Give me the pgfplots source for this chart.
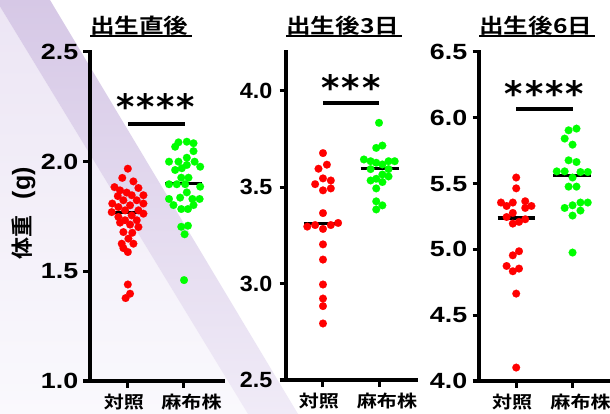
\documentclass[border=0pt]{standalone}
\usepackage{fontspec}
\usepackage{pgfplots}
\pgfplotsset{compat=1.18}
\setmainfont{Liberation Sans}
\newfontfamily\numA{Liberation Sans Bold}[FakeStretch=1.22]
\newfontfamily\numB{Liberation Sans Bold}[FakeStretch=1.06]
\newfontfamily\latB{Liberation Sans Bold}
\newfontfamily\jpT{Noto Sans CJK JP Bold}[FakeStretch=1.2]
\newfontfamily\jpL{Noto Sans CJK JP Bold}[FakeStretch=1.18]
\newfontfamily\jpY{Noto Sans CJK JP Bold}
\newfontfamily\astfont{DejaVu Sans Bold}

\definecolor{band1}{RGB}{214,200,230}
\definecolor{band2}{RGB}{240,235,247}
\definecolor{side1}{RGB}{236,229,244}
\definecolor{side2}{RGB}{250,249,253}
\definecolor{dred}{RGB}{255,0,0}
\definecolor{dgreen}{RGB}{0,255,0}

% underline drawn by hand so that its weight can be set
\newcommand\ul[1]{\setbox0\hbox{#1}\rlap{\rule[-3.7bp]{\dimexpr\wd0+3bp\relax}{1.5bp}}\box0}

\tikzset{stars/.style={font=\astfont\fontsize{35bp}{35bp}\selectfont, yshift=-5.6bp}}

\pgfplotsset{
  panel/.style={
    scale only axis, height=329bp,
    axis lines=left,
    axis line style={-, line width=3.2bp, line cap=rect},
    tick align=outside, major tick length=6.5bp,
    major tick style={line width=3bp, black},
    xtick={0,1},
    xticklabels={{\kern-8bp 対照},{麻布株\kern-16bp}},
    xticklabel style={font=\jpL\fontsize{17bp}{17bp}\selectfont, anchor=base, yshift=-21bp},
    yticklabel style={inner sep=0pt, xshift=-5bp},
    title style={at={(axis description cs:0,1)}, anchor=base west, yshift=13bp,
      inner sep=0pt, font=\jpT\fontsize{20.5bp}{20.5bp}\selectfont},
    clip=false,
  },
  dots/.style={only marks, mark=*, mark size=3.9bp, color=#1,
    mark options={solid, draw=#1, fill=#1, line width=0.1bp}},
  med/.style={no marks, black, line width=3.5bp},
  sig/.style={no marks, black, line width=4bp},
}

\begin{document}
\begin{tikzpicture}
% background
\fill[white] (0bp,0bp) rectangle (610bp,414bp);
\shade[top color=side1, bottom color=side2] (-4bp,414bp) -- (248bp,0bp) -- (-4bp,0bp) -- cycle;
\shade[top color=band1, bottom color=band2] (-4bp,414bp) -- (50bp,414bp) -- (298bp,0bp) -- (248bp,0bp) -- cycle;

% panel 1: at birth
\begin{axis}[panel, at={(90bp,33bp)}, anchor=south west, width=133bp,
  xmin=-0.68, xmax=1.71, ymin=1, ymax=2.5,
  ytick={1,1.5,2,2.5}, yticklabels={1.0,1.5,2.0,2.5},
  yticklabel style={font=\numA\fontsize{22bp}{22bp}\selectfont},
  title={\ul{出生直後}},
  ylabel={{\jpY\fontsize{22bp}{22bp}\selectfont 体重}\hspace{16bp}{\latB\fontsize{25bp}{25bp}\selectfont (g)}},
  ylabel style={at={(axis description cs:-0.5,0.51)}, anchor=center},
]
\addplot[dots=dred] coordinates {
(0.00,1.968) (-0.10,1.926) (0.10,1.910) (-0.24,1.884) (-0.14,1.869) (0.19,1.880)
(-0.02,1.859) (0.07,1.847) (0.28,1.847) (-0.18,1.843) (-0.28,1.809) (-0.08,1.824)
(0.16,1.824) (0.28,1.809) (0.04,1.801) (-0.17,1.793) (-0.29,1.770) (-0.05,1.778)
(0.19,1.778) (0.28,1.763) (-0.17,1.748) (0.07,1.755) (-0.05,1.733) (0.16,1.733)
(-0.14,1.722) (0.04,1.713) (0.19,1.702) (-0.08,1.679) (0.08,1.676) (0.01,1.649)
(-0.11,1.626) (0.10,1.626) (-0.08,1.606) (0.00,1.588) (0.00,1.440) (0.04,1.398)
(-0.04,1.378)
};
\addplot[dots=dgreen] coordinates {
(0.91,2.088) (1.06,2.091) (1.18,2.084) (0.85,2.068) (1.18,2.048) (1.06,2.018)
(0.74,2.000) (0.91,2.000) (1.20,2.000) (1.06,1.985) (1.30,1.977) (0.85,1.962)
(0.97,1.970) (0.96,1.927) (1.09,1.927) (0.74,1.897) (0.88,1.897) (1.03,1.897)
(1.30,1.886) (1.06,1.860) (0.74,1.830) (0.94,1.836) (1.16,1.830) (1.29,1.830)
(0.82,1.802) (0.96,1.784) (1.08,1.784) (1.18,1.802) (0.96,1.703) (1.08,1.708)
(1.02,1.669) (1.01,1.460)
};
\addplot[med] coordinates {(-0.28,1.768) (0.33,1.768)};
\addplot[med] coordinates {(0.67,1.900) (1.33,1.900)};
\addplot[sig] coordinates {(0,2.170) (1.03,2.170)};
\node[stars] at (axis cs:0.5,2.275) {*\kern2bp*\kern2bp*\kern2bp*};
\end{axis}

% panel 2: day 3
\begin{axis}[panel, at={(286bp,34bp)}, anchor=south west, width=130bp, height=328bp,
  xmin=-0.66, xmax=1.66, ymin=2.5, ymax=4.2,
  ytick={2.5,3,3.5,4}, yticklabels={2.5,3.0,3.5,4.0},
  yticklabel style={font=\numB\fontsize{22bp}{22bp}\selectfont, xshift=-2bp},
  title={\ul{出生後3日}},
]
\addplot[dots=dred] coordinates {
(0.00,3.676) (0.07,3.616) (-0.08,3.595) (0.00,3.545) (0.14,3.534) (-0.14,3.515)
(0.00,3.483) (0.14,3.493) (0.00,3.365) (-0.28,3.295) (-0.14,3.303) (0.00,3.283)
(0.14,3.303) (0.27,3.314) (0.00,3.203) (0.00,3.124) (0.00,2.995) (0.00,2.922)
(0.00,2.883) (0.00,2.793)
};
\addplot[dots=dgreen] coordinates {
(1.00,3.833) (0.95,3.703) (1.06,3.715) (0.73,3.643) (0.85,3.634) (0.95,3.626)
(1.06,3.617) (1.17,3.634) (1.28,3.634) (0.85,3.593) (1.17,3.593) (1.06,3.565)
(0.95,3.543) (0.85,3.534) (1.17,3.555) (1.06,3.526) (0.95,3.493) (0.95,3.426)
(1.06,3.405) (0.95,3.384)
};
\addplot[med] coordinates {(-0.34,3.310) (0.33,3.310)};
\addplot[med] coordinates {(0.67,3.595) (1.35,3.595)};
\addplot[sig] coordinates {(0,3.936) (1.0,3.936)};
\node[stars] at (axis cs:0.5,4.043) {*\kern2bp*\kern2bp*};
\end{axis}

% panel 3: day 6
\begin{axis}[panel, at={(479bp,33bp)}, anchor=south west, width=133bp,
  xmin=-0.66, xmax=1.70, ymin=4, ymax=6.5,
  ytick={4,4.5,5,5.5,6,6.5}, yticklabels={4.0,4.5,5.0,5.5,6.0,6.5},
  yticklabel style={font=\numA\fontsize{22bp}{22bp}\selectfont},
  title={\ul{出生後6日}},
]
\addplot[dots=dred] coordinates {
(0.00,5.546) (0.00,5.464) (-0.27,5.356) (-0.17,5.330) (-0.06,5.356) (0.16,5.366)
(0.16,5.315) (0.27,5.330) (-0.06,5.277) (-0.17,5.246) (-0.06,5.196) (0.05,5.209)
(0.16,5.229) (0.05,4.986) (-0.06,4.955) (-0.17,4.874) (-0.06,4.834) (0.05,4.854)
(0.00,4.664) (0.00,4.102)
};
\addplot[dots=dgreen] coordinates {
(0.93,5.905) (1.07,5.918) (0.86,5.842) (1.00,5.796) (0.93,5.677) (1.07,5.664)
(0.72,5.593) (0.86,5.593) (1.14,5.588) (1.27,5.588) (1.00,5.546) (0.93,5.477)
(1.07,5.477) (0.86,5.315) (1.00,5.335) (1.14,5.356) (1.27,5.356) (1.14,5.295)
(1.00,5.257) (1.00,4.976)
};
\addplot[med] coordinates {(-0.33,5.239) (0.34,5.239)};
\addplot[med] coordinates {(0.66,5.563) (1.33,5.563)};
\addplot[sig] coordinates {(0,6.067) (1.01,6.067)};
\node[stars] at (axis cs:0.5,6.228) {*\kern2bp*\kern2bp*\kern2bp*};
\end{axis}

\pgfresetboundingbox
\path (0bp,0bp) rectangle (610bp,414bp);
\end{tikzpicture}
\end{document}
